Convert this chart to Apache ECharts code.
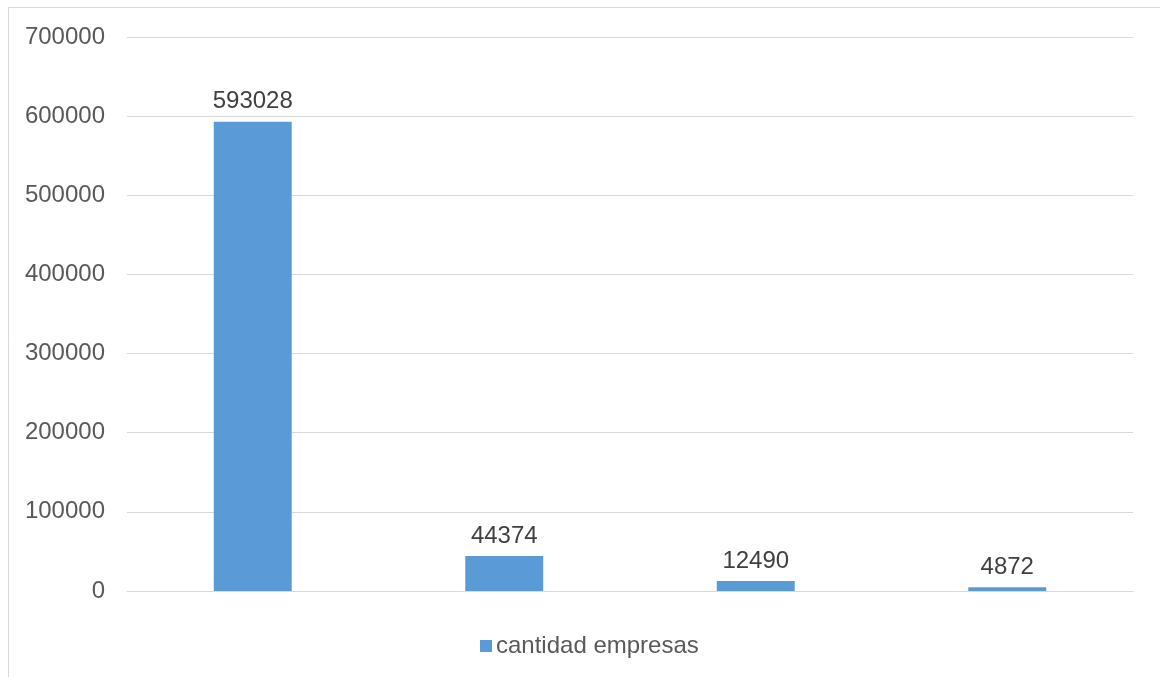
<!DOCTYPE html>
<html>
<head>
<meta charset="utf-8">
<script src="https://cdn.jsdelivr.net/npm/echarts@6/dist/echarts.min.js"></script>
<style>
  html, body { margin: 0; padding: 0; background: #ffffff; }
  #chart { width: 1160px; height: 677px; }
</style>
</head>
<body>
<div id="chart"></div>
<script>
// Categories (unlabelled on the axis)
const categories = ['A', 'B', 'C', 'D'];
// Number of companies per group
const cantidadEmpresas = [593028, 44374, 12490, 4872];
// Value axis ticks
const yTicks = [0, 100000, 200000, 300000, 400000, 500000, 600000, 700000];

const chart = echarts.init(document.getElementById('chart'), null, { renderer: 'canvas' });

const textColor = '#595959';
const fontFamily = '"Liberation Sans", Arial, sans-serif';
const fontSize = 24;

chart.setOption({
  animation: false,
  backgroundColor: '#ffffff',
  graphic: [{
    type: 'rect',
    shape: { x: 8.5, y: 7.5, width: 1200, height: 700 },
    style: { fill: 'none', stroke: '#d9d9d9', lineWidth: 1 },
    silent: true
  }],
  grid: { left: 127, right: 27, top: 37, bottom: 86, containLabel: false },
  legend: {
    top: 634,
    left: 480,
    padding: 0,
    itemWidth: 12,
    itemHeight: 12,
    icon: 'rect',
    textStyle: { color: textColor, fontSize: fontSize, fontFamily: fontFamily, padding: [0, 0, 0, -1] },
    data: ['cantidad empresas']
  },
  xAxis: {
    type: 'category',
    data: categories,
    axisLine: { show: true, lineStyle: { color: '#d9d9d9', width: 1 } },
    axisTick: { show: false },
    axisLabel: { show: false },
    splitLine: { show: false }
  },
  yAxis: {
    type: 'value',
    min: yTicks[0],
    max: yTicks[yTicks.length - 1],
    interval: 100000,
    axisLine: { show: false },
    axisTick: { show: false },
    axisLabel: {
      color: textColor,
      fontSize: fontSize,
      fontFamily: fontFamily,
      margin: 22,
      padding: [5, 0, 0, 0],
      formatter: (v) => String(v)
    },
    splitLine: { show: true, lineStyle: { color: '#d9d9d9', width: 1 } }
  },
  series: [{
    name: 'cantidad empresas',
    type: 'bar',
    data: cantidadEmpresas,
    barWidth: '31%',
    itemStyle: { color: '#5b9bd5' },
    label: {
      show: true,
      position: 'top',
      distance: 8,
      color: '#404040',
      fontSize: fontSize,
      fontFamily: fontFamily,
      formatter: (p) => String(p.value)
    }
  }]
});
</script>
</body>
</html>
